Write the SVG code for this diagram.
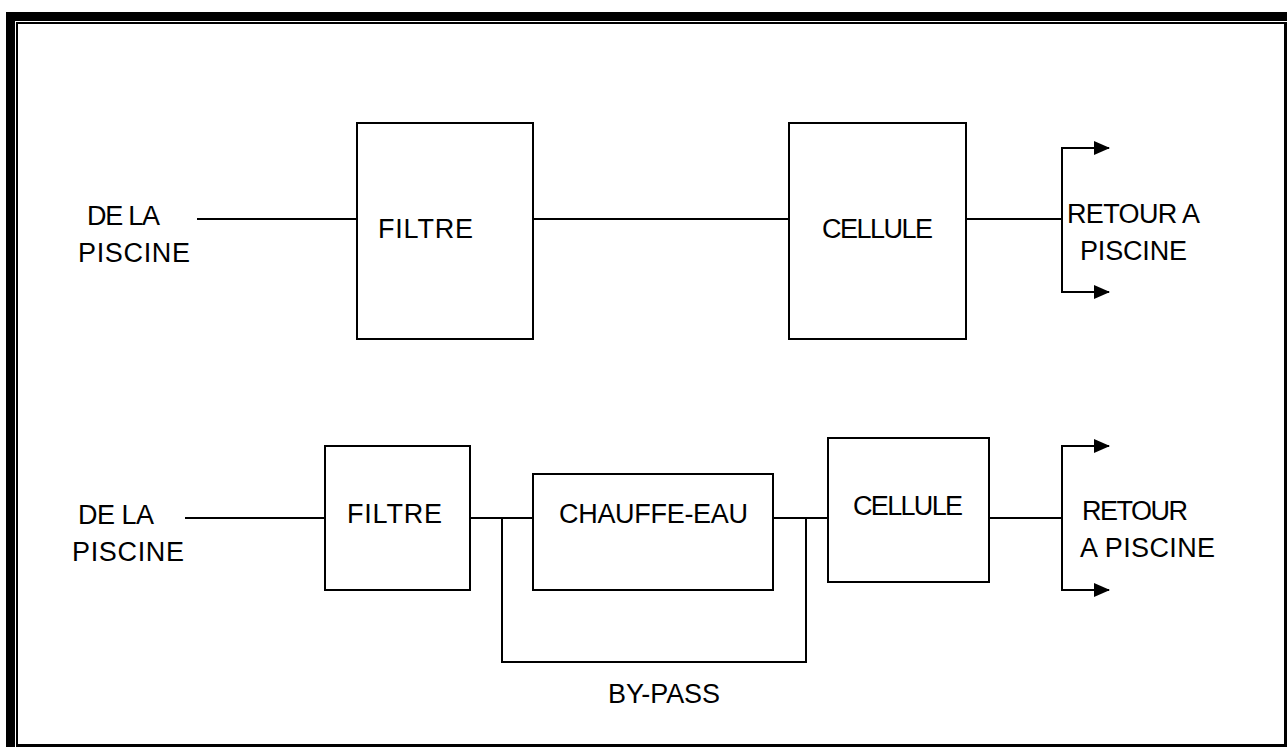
<svg xmlns="http://www.w3.org/2000/svg" width="1287" height="747" viewBox="0 0 1287 747">
<style>
.box{fill:#fff;stroke:#000;stroke-width:2}
.ln{fill:none;stroke:#000;stroke-width:2}
text{font-family:"Liberation Sans",Arial,sans-serif;font-size:27px;fill:#000}
</style>
<defs>
<marker id="arr" markerWidth="16" markerHeight="14" refX="15" refY="7" orient="auto" markerUnits="userSpaceOnUse">
<path d="M0,0 L16,7 L0,14 Z" fill="#000"/>
</marker>
</defs>
<rect width="1287" height="747" fill="#fff"/>
<g id="frame">
<rect x="6" y="12" width="9" height="735" fill="#000"/>
<rect x="6" y="12" width="1281" height="9" fill="#000"/>
<rect x="16" y="22" width="2" height="725" fill="#000"/>
<rect x="16" y="22" width="1271" height="2" fill="#000"/>
<rect x="1284" y="22" width="3" height="725" fill="#000"/>
<rect x="16" y="744" width="1271" height="3" fill="#000"/>
</g>
<g id="connectors">
<line class="ln" x1="197" y1="219" x2="357" y2="219"/>
<line class="ln" x1="533" y1="219" x2="789" y2="219"/>
<line class="ln" x1="966" y1="219" x2="1062" y2="219"/>
<path class="ln" d="M1062,220 V148 H1109" marker-end="url(#arr)"/>
<path class="ln" d="M1062,218 V292 H1109" marker-end="url(#arr)"/>
<line class="ln" x1="185" y1="518" x2="325" y2="518"/>
<line class="ln" x1="470" y1="518" x2="533" y2="518"/>
<line class="ln" x1="773" y1="518" x2="828" y2="518"/>
<path class="ln" d="M502,518 V662 H806 V518"/>
<line class="ln" x1="982" y1="518" x2="1062" y2="518"/>
<path class="ln" d="M1062,519 V446 H1109" marker-end="url(#arr)"/>
<path class="ln" d="M1062,517 V590 H1109" marker-end="url(#arr)"/>
</g>
<g id="filtre1">
<rect class="box" x="357" y="123" width="176" height="216"/>
<text x="378" y="238" textLength="95">FILTRE</text>
</g>
<g id="cellule1">
<rect class="box" x="789" y="123" width="177" height="216"/>
<text x="822" y="238" textLength="111">CELLULE</text>
</g>
<g id="filtre2">
<rect class="box" x="325" y="446" width="145" height="144"/>
<text x="347" y="523" textLength="95">FILTRE</text>
</g>
<g id="chauffe">
<rect class="box" x="533" y="474" width="240" height="116"/>
<text x="559" y="523" textLength="189">CHAUFFE-EAU</text>
</g>
<g id="cellule2">
<rect class="box" x="828" y="438" width="161" height="144"/>
<text x="853" y="515" textLength="110">CELLULE</text>
</g>
<g id="labels">
<text x="87" y="225" textLength="73">DE LA</text>
<text x="78" y="262" textLength="112">PISCINE</text>
<text x="1067" y="223" textLength="133">RETOUR A</text>
<text x="1080" y="260" textLength="107">PISCINE</text>
<text x="78" y="524" textLength="76">DE LA</text>
<text x="72" y="561" textLength="112">PISCINE</text>
<text x="1082" y="520" textLength="106">RETOUR</text>
<text x="1080" y="557" textLength="135">A PISCINE</text>
<text x="608" y="703" textLength="112">BY-PASS</text>
</g>
</svg>
